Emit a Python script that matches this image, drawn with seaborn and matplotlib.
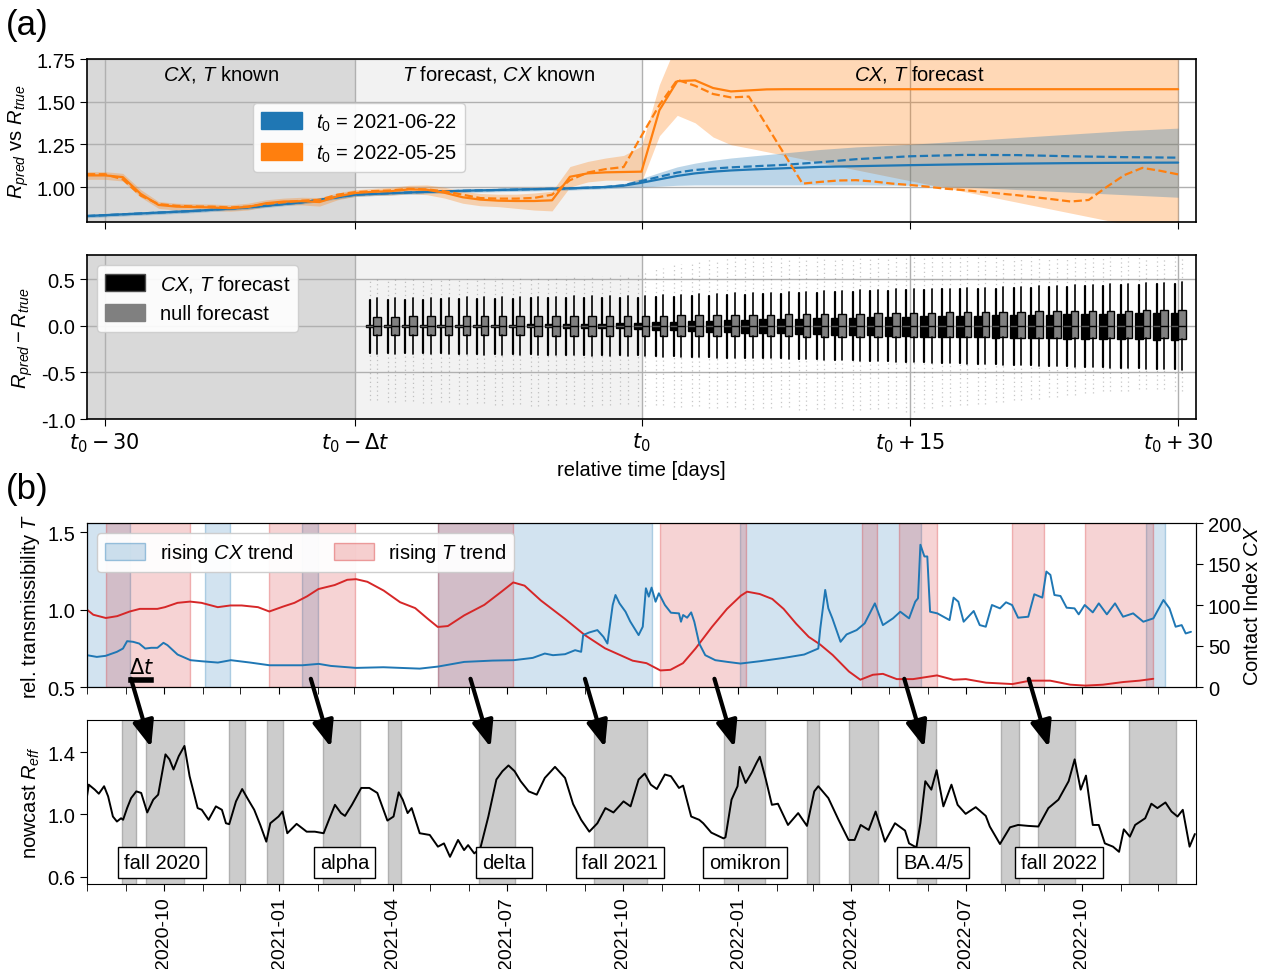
import numpy as np
import pandas as pd
import matplotlib
matplotlib.use("Agg")
import matplotlib.pyplot as plt
import matplotlib.dates as mdates
from matplotlib.patches import Patch, ConnectionPatch
from matplotlib.ticker import FormatStrFormatter
import seaborn as sns

# ---------------------------------------------------------------- data (a)
TICK_DAYS = [-30, -16, 0, 15, 30]
TICK_LABELS = [r"$t_0-30$", r"$t_0-\Delta t$", r"$t_0$", r"$t_0+15$", r"$t_0+30$"]

orange_days = list(range(-31, 31))
orange_pred = [1.068, 1.068, 1.058, 0.960, 0.895, 0.885, 0.883, 0.880, 0.876, 0.883,
               0.905, 0.915, 0.917, 0.912, 0.945, 0.965, 0.972, 0.976, 0.986, 0.984,
               0.966, 0.940, 0.926, 0.920, 0.918, 0.918, 0.922, 1.060, 1.080, 1.086,
               1.088, 1.090, 1.450, 1.620, 1.625, 1.580, 1.560, 1.566, 1.572, 1.573,
               1.573, 1.573, 1.573, 1.573, 1.573, 1.573, 1.573, 1.573, 1.573, 1.573,
               1.573, 1.573, 1.573, 1.573, 1.573, 1.573, 1.573, 1.573, 1.573, 1.573,
               1.573, 1.573]
orange_true_days = list(range(-31, 7)) + list(range(9, 31))
orange_true = [1.075, 1.075, 1.045, 0.950, 0.900, 0.890, 0.886, 0.885, 0.880, 0.886,
               0.900, 0.910, 0.920, 0.925, 0.955, 0.970, 0.976, 0.980, 0.990, 0.986,
               0.975, 0.955, 0.935, 0.932, 0.932, 0.936, 0.955, 1.040, 1.085, 1.105,
               1.117, 1.300, 1.480, 1.628, 1.593, 1.545, 1.525, 1.530,
               1.020, 1.030, 1.038, 1.040, 1.032, 1.020, 1.012, 1.002, 0.990, 0.982,
               0.972, 0.962, 0.952, 0.940, 0.928, 0.915, 0.924, 1.000, 1.070, 1.112,
               1.095, 1.074]
orange_band_days = list(range(-31, 7)) + [10, 15, 20, 25, 30]
orange_lo = [1.045, 1.045, 1.035, 0.940, 0.875, 0.865, 0.865, 0.862, 0.858, 0.865,
             0.885, 0.895, 0.895, 0.888, 0.925, 0.945, 0.950, 0.952, 0.960, 0.955,
             0.935, 0.905, 0.890, 0.885, 0.875, 0.865, 0.860, 1.000, 1.030, 1.040,
             1.040, 1.030, 1.300, 1.420, 1.376, 1.293, 1.248, 1.228,
             1.143, 1.037, 0.932, 0.826, 0.720]
orange_hi = [1.090, 1.090, 1.080, 0.985, 0.915, 0.905, 0.902, 0.900, 0.896, 0.905,
             0.925, 0.935, 0.940, 0.938, 0.965, 0.985, 0.992, 0.998, 1.010, 1.012,
             0.998, 0.975, 0.962, 0.958, 0.958, 0.965, 0.975, 1.120, 1.150, 1.170,
             1.185, 1.240, 1.600, 1.850, 1.850, 1.850, 1.850, 1.850,
             1.850, 1.850, 1.850, 1.850, 1.850]

blue_days = [-31, -28, -25, -22, -19, -16, -13, -10, -7, -4, -2, -1, 0, 1, 2, 3, 4, 5,
             6, 8, 10, 12, 15, 18, 21, 24, 27, 30]
blue_pred = [0.830, 0.845, 0.860, 0.880, 0.910, 0.955, 0.968, 0.978, 0.985, 0.992, 1.000,
             1.008, 1.025, 1.045, 1.065, 1.080, 1.090, 1.097, 1.102, 1.110, 1.118, 1.122,
             1.128, 1.133, 1.137, 1.140, 1.142, 1.143]
blue_true = [0.830, 0.845, 0.860, 0.880, 0.910, 0.955, 0.968, 0.978, 0.985, 0.992, 1.000,
             1.010, 1.035, 1.060, 1.085, 1.100, 1.108, 1.115, 1.120, 1.130, 1.145, 1.163,
             1.180, 1.188, 1.187, 1.180, 1.175, 1.172]
blue_lo = [0.820, 0.835, 0.850, 0.870, 0.900, 0.945, 0.958, 0.968, 0.975, 0.982, 0.990,
           0.995, 1.000, 1.005, 1.010, 1.012, 1.012, 1.012, 1.012, 1.012, 1.012, 1.012,
           1.010, 1.000, 0.985, 0.970, 0.955, 0.940]
blue_hi = [0.840, 0.855, 0.870, 0.890, 0.920, 0.965, 0.978, 0.988, 0.995, 1.002, 1.010,
           1.020, 1.050, 1.085, 1.118, 1.140, 1.157, 1.170, 1.180, 1.200, 1.220, 1.235,
           1.250, 1.270, 1.290, 1.310, 1.330, 1.345]

box_days = list(range(-15, 31))
black_q3 = [0.010, 0.010, 0.010, 0.011, 0.011, 0.012, 0.012, 0.013, 0.014, 0.015, 0.016,
            0.018, 0.020, 0.022, 0.025,
            0.030, 0.038, 0.045, 0.050, 0.056, 0.061, 0.066, 0.070, 0.074, 0.078, 0.081,
            0.084, 0.087, 0.090, 0.094, 0.100, 0.103, 0.106, 0.108, 0.110, 0.112, 0.115,
            0.118, 0.120, 0.123, 0.126, 0.128, 0.131, 0.134, 0.137, 0.140]
black_q1 = [-0.010, -0.010, -0.011, -0.011, -0.012, -0.012, -0.013, -0.014, -0.015, -0.016,
            -0.018, -0.020, -0.022, -0.025, -0.028,
            -0.034, -0.042, -0.050, -0.056, -0.062, -0.068, -0.073, -0.078, -0.082, -0.086,
            -0.090, -0.094, -0.097, -0.101, -0.105, -0.112, -0.115, -0.118, -0.121, -0.124,
            -0.127, -0.130, -0.133, -0.135, -0.138, -0.140, -0.142, -0.144, -0.146, -0.148,
            -0.150]
gray_q3 = [0.100, 0.100, 0.101, 0.101, 0.102, 0.102, 0.103, 0.103, 0.104, 0.104, 0.105,
           0.105, 0.106, 0.106, 0.107,
           0.108, 0.109, 0.111, 0.113, 0.115, 0.117, 0.119, 0.121, 0.123, 0.125, 0.127,
           0.129, 0.131, 0.133, 0.136, 0.140, 0.142, 0.144, 0.146, 0.148, 0.150, 0.152,
           0.154, 0.156, 0.158, 0.160, 0.162, 0.164, 0.166, 0.169, 0.172]
gray_q1 = [-0.100, -0.100, -0.101, -0.101, -0.102, -0.102, -0.102, -0.103, -0.103, -0.104,
           -0.104, -0.104, -0.105, -0.105, -0.105,
           -0.106, -0.107, -0.108, -0.109, -0.110, -0.111, -0.112, -0.113, -0.114, -0.115,
           -0.116, -0.117, -0.118, -0.119, -0.120, -0.120, -0.121, -0.122, -0.123, -0.124,
           -0.125, -0.126, -0.127, -0.128, -0.129, -0.130, -0.131, -0.132, -0.133, -0.135,
           -0.137]
black_whi = [0.28, 0.28, 0.28, 0.28, 0.29, 0.29, 0.29, 0.29, 0.29, 0.30, 0.30, 0.30, 0.30,
             0.30, 0.30,
             0.30, 0.31, 0.31, 0.32, 0.32, 0.33, 0.33, 0.34, 0.34, 0.35, 0.35, 0.36, 0.36,
             0.37, 0.37, 0.38, 0.38, 0.39, 0.39, 0.40, 0.40, 0.41, 0.41, 0.42, 0.42, 0.43,
             0.43, 0.44, 0.44, 0.45, 0.45]
black_wlo = [-0.29, -0.29, -0.29, -0.29, -0.29, -0.30, -0.30, -0.30, -0.30, -0.30, -0.31,
             -0.31, -0.31, -0.31, -0.31,
             -0.31, -0.32, -0.32, -0.33, -0.33, -0.34, -0.34, -0.35, -0.35, -0.36, -0.36,
             -0.37, -0.37, -0.38, -0.38, -0.39, -0.39, -0.40, -0.40, -0.41, -0.41, -0.42,
             -0.42, -0.43, -0.43, -0.44, -0.44, -0.45, -0.45, -0.46, -0.46]
gray_whi = [0.30, 0.30, 0.30, 0.30, 0.30, 0.31, 0.31, 0.31, 0.31, 0.31, 0.31, 0.32, 0.32,
            0.32, 0.32,
            0.32, 0.33, 0.33, 0.34, 0.34, 0.35, 0.35, 0.35, 0.36, 0.36, 0.37, 0.37, 0.38,
            0.38, 0.39, 0.39, 0.40, 0.40, 0.41, 0.41, 0.42, 0.42, 0.43, 0.43, 0.44, 0.44,
            0.45, 0.45, 0.46, 0.46, 0.47]
gray_wlo = [-0.30, -0.30, -0.30, -0.30, -0.30, -0.30, -0.31, -0.31, -0.31, -0.31, -0.31,
            -0.31, -0.32, -0.32, -0.32,
            -0.32, -0.33, -0.33, -0.33, -0.34, -0.34, -0.35, -0.35, -0.36, -0.36, -0.37,
            -0.37, -0.38, -0.38, -0.39, -0.39, -0.40, -0.40, -0.41, -0.41, -0.42, -0.42,
            -0.43, -0.43, -0.44, -0.44, -0.45, -0.45, -0.46, -0.46, -0.47]
flier_hi = [0.50, 0.50, 0.51, 0.50, 0.51, 0.50, 0.51, 0.52, 0.51, 0.52, 0.52, 0.53, 0.53,
            0.54, 0.55,
            0.58, 0.62, 0.66, 0.70, 0.72, 0.74, 0.74, 0.74, 0.74, 0.74, 0.74, 0.74, 0.74,
            0.74, 0.74, 0.74, 0.74, 0.74, 0.74, 0.74, 0.74, 0.74, 0.74, 0.74, 0.74, 0.74,
            0.74, 0.74, 0.74, 0.74, 0.74]
flier_lo = [-0.80, -0.82, -0.81, -0.83, -0.82, -0.84, -0.83, -0.85, -0.84, -0.86, -0.85,
            -0.84, -0.86, -0.85, -0.84,
            -0.86, -0.85, -0.87, -0.86, -0.88, -0.87, -0.89, -0.88, -0.87, -0.90, -0.89,
            -0.88, -0.90, -0.89, -0.88, -0.92, -0.88, -0.86, -0.85, -0.84, -0.82, -0.80,
            -0.78, -0.76, -0.74, -0.72, -0.70, -0.70, -0.68, -0.68, -0.70]

# ---------------------------------------------------------------- data (b)
START = "2020-08-01"
END = "2022-12-31"
T_POINTS = [(0, 1.0), (5, 0.967), (15, 0.946), (24, 0.958), (34, 0.988), (42, 1.005),
            (56, 1.005), (62, 1.016), (72, 1.044), (82, 1.052), (91, 1.044), (104, 1.016),
            (114, 1.027), (123, 1.027), (136, 1.016), (145, 0.988), (156, 1.020),
            (165, 1.044), (175, 1.086), (184, 1.133), (197, 1.159), (207, 1.193),
            (214, 1.197), (223, 1.180), (236, 1.123), (249, 1.048), (261, 1.010),
            (271, 0.941), (279, 0.888), (287, 0.894), (300, 0.963), (316, 1.031),
            (329, 1.112), (339, 1.176), (348, 1.155), (361, 1.059), (380, 0.941),
            (396, 0.835), (412, 0.750), (434, 0.670), (445, 0.654), (456, 0.607),
            (464, 0.611), (474, 0.654), (484, 0.749), (497, 0.888), (509, 1.005),
            (520, 1.090), (525, 1.116), (535, 1.101), (545, 1.069), (554, 1.005),
            (564, 0.909), (574, 0.824), (583, 0.775), (593, 0.707), (606, 0.600),
            (615, 0.547), (625, 0.579), (633, 0.585), (644, 0.551), (657, 0.551),
            (676, 0.575), (689, 0.547), (699, 0.551), (715, 0.528), (736, 0.519),
            (750, 0.541), (766, 0.541), (782, 0.515), (794, 0.509), (808, 0.515),
            (824, 0.532), (837, 0.541), (848, 0.553)]
CX_POINTS = [(0, 38.8), (7.8, 36.7), (14.8, 38.0), (23.8, 42.9), (28.6, 46.9), (31.9, 55.9),
             (36.7, 55.1), (41.5, 53.0), (46.3, 46.9), (51.1, 47.8), (56, 47.8),
             (60.8, 53.9), (64, 51.0), (72, 39.6), (82.3, 32.7), (91.2, 31.4),
             (104.1, 29.8), (114.4, 32.7), (129.8, 29.8), (145.2, 26.5), (171.2, 26.5),
             (184.3, 28.2), (194, 25.7), (213.9, 23.3), (235.7, 24.1), (264.6, 22.4),
             (279.1, 24.9), (300, 30.6), (322.4, 32.2), (339.4, 32.7), (354.5, 35.5),
             (364.1, 40.8), (370.6, 38.8), (380.2, 40.0), (388.2, 44.9), (393, 42.9),
             (394.6, 63.3), (399.4, 66.5), (405.9, 69.4), (410.7, 61.2), (413.9, 53.0),
             (418.1, 100.0), (420.3, 112.2), (423.5, 102.0), (428.3, 91.8), (432, 80.0),
             (435.5, 71.4), (438.7, 63.3), (442, 73.5), (444.5, 120.4), (446.8, 110.2),
             (449, 121.2), (452.2, 104.0), (454.8, 114.3), (459.6, 100.0), (464.4, 90.6),
             (470.8, 89.8), (472.4, 79.6), (474.1, 87.8), (477.3, 84.5), (480.5, 91.0),
             (483, 79.6), (486.9, 53.0), (491.7, 38.8), (499.7, 32.7), (509.4, 30.6),
             (519.7, 28.6), (535, 31.4), (554.3, 35.5), (570.4, 39.6), (578.4, 44.9),
             (581.6, 46.9), (583.2, 71.4), (587.1, 118.4), (589.6, 95.9), (592.8, 83.7),
             (599.3, 55.1), (604.1, 64.1), (612.1, 69.4), (618.5, 77.6), (626.6, 102.0),
             (633, 75.5), (641, 83.7), (646.8, 91.8), (653.8, 83.7), (658.7, 104.0),
             (660.9, 108.2), (662.8, 173.5), (666, 159.2), (668.3, 159.2), (670.5, 91.8),
             (676.3, 89.8), (686, 81.6), (689.2, 109.0), (693, 104.0), (697.2, 79.6),
             (705.2, 92.7), (710, 75.5), (714.8, 73.5), (719.7, 100.0), (726.1, 95.9),
             (730.9, 103.3), (735.7, 100.0), (740.5, 84.5), (748.6, 85.7), (753.4, 113.1),
             (759.8, 109.0), (763, 140.8), (766.2, 136.7), (769.4, 112.2), (774.2, 111.0),
             (779.1, 96.7), (785.4, 95.9), (788.7, 88.6), (793.5, 100.0), (799.9, 91.0),
             (804.7, 102.0), (811.1, 88.6), (817.6, 102.0), (824, 85.7), (832, 89.8),
             (840.1, 79.6), (848.1, 83.7), (856.1, 106.1), (860.9, 95.9), (865.8, 73.5),
             (870.6, 75.5), (873.8, 65.3), (878, 67.3)]
R_POINTS = [(0, 1.116), (1.4, 1.191), (6.2, 1.159), (9.4, 1.133), (13.6, 1.181),
            (16.8, 1.116), (20.6, 0.987), (23.8, 0.955), (27.1, 0.976), (28.7, 0.966),
            (31.9, 1.041), (35.1, 1.105), (39.2, 1.148), (43.1, 1.138), (47.9, 1.013),
            (52.7, 1.095), (56.6, 1.127), (62.4, 1.385), (65.6, 1.353), (68.8, 1.288),
            (73.0, 1.374), (77.5, 1.439), (81.6, 1.245), (88.0, 1.041), (91.3, 1.030),
            (96.7, 0.966), (102.5, 1.052), (107.3, 1.030), (110.5, 0.944), (113.1, 0.938),
            (118.5, 1.084), (123.4, 1.163), (128.2, 1.095), (133.0, 1.030), (137.8, 0.933),
            (142.6, 0.826), (145.8, 0.944), (152.3, 0.987), (155.5, 1.019), (159.3, 0.880),
            (166.7, 0.940), (174.7, 0.890), (181.2, 0.890), (188.2, 0.880), (192.4, 0.966),
            (197.2, 1.062), (202.0, 1.009), (205.2, 0.991), (210.7, 1.062), (218.1, 1.170),
            (224.5, 1.170), (230.9, 1.138), (238.9, 0.961), (243.8, 0.987), (247.9, 1.142),
            (251.1, 1.095), (255.0, 1.009), (258.2, 1.041), (264.6, 0.880), (272.6, 0.869),
            (279.1, 0.794), (283.9, 0.815), (288.7, 0.729), (295.1, 0.837), (299.9, 0.772),
            (303.1, 0.804), (308.0, 0.751), (312.8, 0.783), (319.2, 0.987), (325.6, 1.224),
            (330.4, 1.277), (335.2, 1.314), (340.1, 1.277), (344.9, 1.213), (351.3, 1.148),
            (357.7, 1.127), (364.1, 1.234), (372.2, 1.305), (380.2, 1.234), (386.6, 1.067),
            (393.0, 0.966), (399.5, 0.890), (405.9, 0.944), (412.3, 1.041), (418.7, 1.013),
            (426.7, 1.084), (432.3, 1.052), (438.7, 1.224), (443.6, 1.262), (448.4, 1.191),
            (453.2, 1.163), (459.6, 1.256), (464.4, 1.245), (470.8, 1.170), (474.1, 1.185),
            (480.5, 0.987), (486.9, 0.966), (490.1, 0.944), (496.5, 0.884), (506.2, 0.847),
            (507.8, 0.854), (512.6, 1.095), (517.4, 1.181), (519.0, 1.305), (523.8, 1.202),
            (528.6, 1.267), (532.5, 1.331), (535.1, 1.370), (539.9, 1.224), (544.7, 1.062),
            (549.5, 1.069), (557.5, 0.933), (565.6, 1.009), (572.6, 0.927), (578.4, 1.148),
            (581.6, 1.181), (589.6, 1.105), (597.7, 0.966), (605.7, 0.837), (610.5, 0.837),
            (615.3, 0.933), (621.7, 0.901), (627.2, 1.019), (631.4, 0.912), (634.6, 0.826),
            (642.6, 0.944), (650.6, 0.897), (653.8, 0.815), (659.6, 0.789), (662.8, 0.944),
            (666.7, 1.213), (671.5, 1.159), (675.7, 1.284), (681.1, 1.052), (687.5, 1.191),
            (692.4, 1.062), (698.8, 1.004), (706.8, 1.047), (714.8, 0.991), (718.0, 0.923),
            (726.1, 0.811), (734.1, 0.918), (740.5, 0.933), (748.6, 0.927), (756.6, 0.923),
            (764.6, 1.041), (772.6, 1.095), (780.7, 1.213), (785.5, 1.353), (790.3, 1.159),
            (794.5, 1.249), (799.9, 0.933), (804.7, 0.933), (809.5, 0.815), (816.0, 0.794),
            (820.8, 0.761), (824.6, 0.905), (829.4, 0.858), (833.6, 0.933), (841.6, 0.976),
            (846.5, 1.069), (851.3, 1.041), (857.7, 1.077), (862.5, 1.019), (867.3, 0.987),
            (871.5, 1.030), (876.9, 0.794), (881.1, 0.875)]

CX_SPANS = [("2020-08-01", "2020-09-04"), ("2020-11-03", "2020-11-23"),
            ("2021-01-19", "2021-02-01"), ("2021-05-07", "2021-10-24"),
            ("2022-01-02", "2022-05-26"), ("2022-11-21", "2022-12-06")]
T_SPANS = [("2020-08-16", "2020-10-22"), ("2020-12-24", "2021-03-02"),
           ("2021-05-07", "2021-07-06"), ("2021-10-31", "2022-01-07"),
           ("2022-04-09", "2022-04-21"), ("2022-05-09", "2022-06-08"),
           ("2022-08-07", "2022-09-01"), ("2022-10-04", "2022-11-27")]
WAVE_SPANS = [("2020-08-29", "2020-09-09"), ("2020-09-17", "2020-10-17"),
              ("2020-11-22", "2020-12-05"), ("2020-12-22", "2021-01-04"),
              ("2021-02-05", "2021-03-06"), ("2021-03-28", "2021-04-08"),
              ("2021-06-09", "2021-07-07"), ("2021-09-08", "2021-10-20"),
              ("2021-12-21", "2022-01-22"), ("2022-02-25", "2022-03-06"),
              ("2022-03-30", "2022-04-22"), ("2022-05-23", "2022-06-07"),
              ("2022-07-29", "2022-08-12"), ("2022-08-27", "2022-09-26"),
              ("2022-11-08", "2022-12-15")]
WAVE_LABELS = ["fall 2020", "alpha", "delta", "fall 2021", "omikron", "BA.4/5", "fall 2022"]
WAVE_LABEL_DATES = ["2020-09-30", "2021-02-22", "2021-06-29", "2021-09-29", "2022-01-06",
                    "2022-06-05", "2022-09-13"]
ARROW_STARTS = ["2020-09-05", "2021-01-26", "2021-06-02", "2021-09-01", "2021-12-13",
                "2022-05-13", "2022-08-20"]
DELTA_T_DAYS = 16

# ---------------------------------------------------------------- style
FS = 14.5
sns.set_style("ticks")
plt.rcParams['font.family'] = ['Liberation Sans', 'DejaVu Sans']
plt.rcParams['font.size'] = FS
plt.rcParams['mathtext.fontset'] = 'custom'
plt.rcParams['mathtext.rm'] = 'Liberation Sans'
plt.rcParams['mathtext.it'] = 'Liberation Sans:italic'
plt.rcParams['mathtext.bf'] = 'Liberation Sans:bold'
for k in ['axes.edgecolor', 'axes.labelcolor', 'xtick.color', 'ytick.color', 'text.color']:
    plt.rcParams[k] = 'black'
plt.rcParams['xtick.labelsize'] = FS
plt.rcParams['ytick.labelsize'] = FS
plt.rcParams['axes.labelsize'] = FS
plt.rcParams['legend.fontsize'] = FS
plt.rcParams['legend.handlelength'] = 2.0
plt.rcParams['legend.handleheight'] = 0.9
plt.rcParams['legend.handletextpad'] = 0.7
plt.rcParams['xtick.major.size'] = 5
plt.rcParams['ytick.major.size'] = 5
plt.rcParams['xtick.minor.size'] = 5

BLUE, ORANGE, RED = '#1f77b4', '#ff7f0e', '#d62728'

W, H = 1262, 970
fig = plt.figure(figsize=(W / 100, H / 100), dpi=100)


def rect(l, t, r, b):
    return [l / W, 1 - b / H, (r - l) / W, (b - t) / H]


ax1 = fig.add_axes(rect(87, 60, 1196, 223))
ax2 = fig.add_axes(rect(87, 256, 1196, 420))
ax3 = fig.add_axes(rect(87, 524, 1196, 688))
ax4 = fig.add_axes(rect(87, 721, 1196, 885))

# ---------------------------------------------------------------- panel (a)
for ax in (ax1, ax2):
    ax.axvspan(-31, -16, color='#d9d9d9', lw=0, zorder=0)
    ax.axvspan(-16, 0, color='#f2f2f2', lw=0, zorder=0)
    ax.set_xlim(-31, 31)
    ax.set_xticks(TICK_DAYS)
    ax.grid(True, color='#b0b0b0', lw=1)
    ax.set_axisbelow(True)
    for s in ax.spines.values():
        s.set_linewidth(1.2)

ax1.fill_between(orange_band_days, orange_lo, orange_hi, color=ORANGE, alpha=0.3, lw=0)
ax1.fill_between(blue_days, blue_lo, blue_hi, color=BLUE, alpha=0.3, lw=0)
sns.lineplot(x=blue_days, y=blue_pred, ax=ax1, color=BLUE, lw=1.6)
sns.lineplot(x=blue_days, y=blue_true, ax=ax1, color=BLUE, lw=1.6, linestyle='--')
sns.lineplot(x=orange_days, y=orange_pred, ax=ax1, color=ORANGE, lw=1.6)
sns.lineplot(x=orange_true_days, y=orange_true, ax=ax1, color=ORANGE, lw=1.6, linestyle='--')
ax1.set_ylim(0.795, 1.75)
ax1.set_yticks([1.0, 1.25, 1.5, 1.75])
ax1.yaxis.set_major_formatter(FormatStrFormatter('%.2f'))
ax1.tick_params(labelbottom=False)
ax1.set_ylabel(r"$R_{pred}$ vs $R_{true}$")
ax1.set_xlabel("")
for txt, xd in [(r"$CX$, $T$ known", -23.5), (r"$T$ forecast, $CX$ known", -8.0),
                (r"$CX$, $T$ forecast", 15.5)]:
    ax1.text(xd, 1.665, txt, ha='center', va='center', fontsize=FS)
ax1.legend([Patch(color=BLUE), Patch(color=ORANGE)],
           [r"$t_0$ = 2021-06-22", r"$t_0$ = 2022-05-25"],
           loc='upper left', bbox_to_anchor=(0.141, 0.79), framealpha=0.9)

# boxes
black_stats = [dict(med=0.0, q1=a, q3=b, whislo=c, whishi=d, fliers=[])
               for a, b, c, d in zip(black_q1, black_q3, black_wlo, black_whi)]
gray_stats = [dict(med=0.0, q1=a, q3=b, whislo=c, whishi=d, fliers=[])
              for a, b, c, d in zip(gray_q1, gray_q3, gray_wlo, gray_whi)]
black_pos = [d - 0.2 for d in box_days]
gray_pos = [d + 0.22 for d in box_days]
for pos, whi, wlo in [(black_pos, black_whi, black_wlo), (gray_pos, gray_whi, gray_wlo)]:
    ax2.vlines(pos, whi, flier_hi, color='0.45', lw=0.9, alpha=0.4,
               linestyles=[(0, (1, 2.5))], zorder=1.5)
    ax2.vlines(pos, flier_lo, wlo, color='0.45', lw=0.9, alpha=0.4,
               linestyles=[(0, (1, 2.5))], zorder=1.5)
ax2.bxp(black_stats, positions=black_pos, widths=0.42, patch_artist=True, showcaps=False,
        showfliers=False, manage_ticks=False,
        boxprops=dict(facecolor='black', edgecolor='black', lw=1),
        whiskerprops=dict(color='black', lw=1.6),
        medianprops=dict(color='0.35', lw=1))
ax2.bxp(gray_stats, positions=gray_pos, widths=0.42, patch_artist=True, showcaps=False,
        showfliers=False, manage_ticks=False,
        boxprops=dict(facecolor='#808080', edgecolor='black', lw=1),
        whiskerprops=dict(color='black', lw=1.2),
        medianprops=dict(color='black', lw=1))
ax2.set_xlim(-31, 31)
ax2.set_xticks(TICK_DAYS)
ax2.set_xticklabels(TICK_LABELS)
for lab in ax2.get_xticklabels():
    lab.set_math_fontfamily('dejavusans')
    lab.set_fontsize(15)
ax2.set_ylim(-1.0, 0.76)
ax2.set_yticks([-1.0, -0.5, 0.0, 0.5])
ax2.yaxis.set_major_formatter(FormatStrFormatter('%.1f'))
ax2.set_ylabel(r"$R_{pred} - R_{true}$")
ax2.set_xlabel("relative time [days]")
ax2.legend([Patch(facecolor='black', edgecolor='0.3'), Patch(facecolor='#808080', edgecolor='0.5')],
           [r"$CX$, $T$ forecast", "null forecast"], loc='upper left', framealpha=0.9)

# ---------------------------------------------------------------- panel (b)
start = pd.Timestamp(START)


def to_dates(days):
    return start + pd.to_timedelta(np.asarray(days, dtype=float), unit='D')


t_days, t_vals = zip(*T_POINTS)
cx_days, cx_vals = zip(*CX_POINTS)
r_days, r_vals = zip(*R_POINTS)

blue_rgb = matplotlib.colors.to_rgb(BLUE)
red_rgb = matplotlib.colors.to_rgb(RED)
for a, b in CX_SPANS:
    ax3.axvspan(pd.Timestamp(a), pd.Timestamp(b), facecolor=(*blue_rgb, 0.2),
                edgecolor=(*blue_rgb, 0.3), lw=1, zorder=0)
for a, b in T_SPANS:
    ax3.axvspan(pd.Timestamp(a), pd.Timestamp(b), facecolor=(*red_rgb, 0.2),
                edgecolor=(*red_rgb, 0.3), lw=1, zorder=0)
sns.lineplot(x=to_dates(t_days), y=list(t_vals), ax=ax3, color=RED, lw=1.4)
ax3.set_ylim(0.5, 1.56)
ax3.set_yticks([0.5, 1.0, 1.5])
ax3.set_ylabel("rel. transmissibility $T$")
ax3.set_xlabel("")

ax3r = ax3.twinx()
sns.lineplot(x=to_dates(cx_days), y=list(cx_vals), ax=ax3r, color=BLUE, lw=1.4)
ax3r.set_ylim(0, 200)
ax3r.set_yticks([0, 50, 100, 150, 200])
ax3r.set_ylabel("Contact Index $CX$", labelpad=1)
ax3r.legend([Patch(facecolor=(*blue_rgb, 0.22), edgecolor=(*blue_rgb, 0.4)),
             Patch(facecolor=(*red_rgb, 0.22), edgecolor=(*red_rgb, 0.4))],
            [r"rising $CX$ trend", r"rising $T$ trend"], loc='upper left', ncol=2,
            columnspacing=2.0, framealpha=0.95)

for a, b in WAVE_SPANS:
    ax4.axvspan(pd.Timestamp(a), pd.Timestamp(b), facecolor='#cccccc',
                edgecolor='#b0b0b0', lw=1, zorder=0)
sns.lineplot(x=to_dates(r_days), y=list(r_vals), ax=ax4, color='black', lw=1.4)
ax4.set_ylim(0.555, 1.605)
ax4.set_yticks([0.6, 1.0, 1.4])
ax4.set_ylabel(r"nowcast $R_{eff}$")
ax4.set_xlabel("")
for lab, d in zip(WAVE_LABELS, WAVE_LABEL_DATES):
    ax4.text(pd.Timestamp(d), 0.69, lab, ha='center', va='center', fontsize=FS, zorder=5,
             bbox=dict(boxstyle='square,pad=0.3', fc='white', ec='black', lw=1))

for ax in (ax3, ax3r, ax4):
    ax.set_xlim(pd.Timestamp(START), pd.Timestamp(END))
for ax in (ax3, ax4):
    ax.xaxis.set_major_locator(mdates.MonthLocator(bymonth=[1, 4, 7, 10]))
    ax.xaxis.set_major_formatter(mdates.DateFormatter('%Y-%m'))
    ax.xaxis.set_minor_locator(mdates.MonthLocator())
ax3.tick_params(axis='x', which='both', labelbottom=False)
plt.setp(ax4.get_xticklabels(), rotation=90, fontsize=14)

# Delta t bar and arrows
d0 = pd.Timestamp(ARROW_STARTS[0])
d1 = d0 + pd.Timedelta(days=DELTA_T_DAYS)
ax3.plot([d0, d1], [0.545, 0.545], color='black', lw=4, solid_capstyle='projecting',
         clip_on=False, zorder=6)
ax3.text(d0 + pd.Timedelta(days=DELTA_T_DAYS / 2), 0.565, r"$\Delta t$", ha='center',
         va='bottom', fontsize=15, math_fontfamily='dejavusans', zorder=6)
for s in ARROW_STARTS:
    a = pd.Timestamp(s)
    b = a + pd.Timedelta(days=DELTA_T_DAYS)
    con = ConnectionPatch(xyA=(mdates.date2num(a), 0.553), coordsA=ax3.transData,
                          xyB=(mdates.date2num(b), 1.43), coordsB=ax4.transData,
                          arrowstyle='-|>,head_length=0.8,head_width=0.32',
                          mutation_scale=20, lw=3, color='black', shrinkA=0, shrinkB=0)
    fig.add_artist(con)

fig.text(6 / W, 1 - 25 / H, "(a)", fontsize=25, va='center', ha='left')
fig.text(6 / W, 1 - 490 / H, "(b)", fontsize=25, va='center', ha='left')

fig.savefig("out.png", dpi=100)
